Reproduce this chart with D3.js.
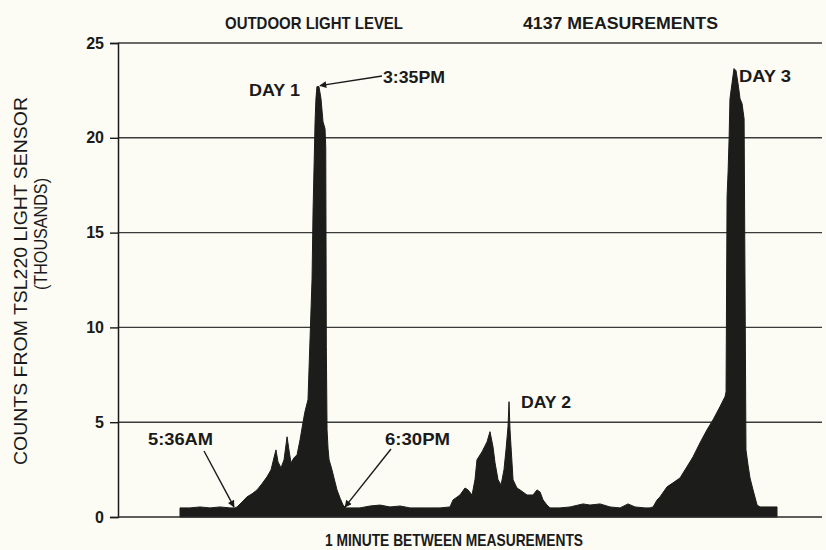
<!DOCTYPE html>
<html>
<head>
<meta charset="utf-8">
<script src="https://cdn.jsdelivr.net/npm/d3@7"></script>
<style>
  html, body { margin: 0; padding: 0; background: #fcfcf4; }
  svg { display: block; }
  text { font-family: "Liberation Sans", Arial, Helvetica, sans-serif; fill: #1a1a1a; }
</style>
</head>
<body>
<svg id="chart" width="826" height="550"></svg>
<script>
// Measurement number (one per minute) and sensor counts in thousands
const minutes = [
  0, 69, 139, 208, 277, 347, 381, 395, 430, 464, 499, 534, 568, 603, 631, 651, 665, 679, 700, 721,
  742, 755, 769, 790, 811, 832, 852, 866, 887, 901, 915, 922, 936, 942, 949, 963, 977, 991, 1005, 1010,
  1014, 1019, 1026, 1033, 1053, 1074, 1088, 1109, 1130, 1150, 1247, 1317, 1386, 1455, 1525, 1594, 1663, 1733, 1802, 1871,
  1892, 1940, 1975, 1996, 2024, 2044, 2058, 2093, 2128, 2148, 2169, 2183, 2204, 2225, 2245, 2259, 2273, 2280,
  2287, 2294, 2308, 2335, 2356, 2405, 2446, 2474, 2495, 2516, 2543, 2564, 2633, 2703, 2793, 2841, 2911, 2980,
  3049, 3105, 3153, 3222, 3257, 3278, 3306, 3326, 3375, 3416, 3465, 3513, 3555, 3604, 3652, 3694, 3742, 3777,
  3784, 3791, 3798, 3805, 3811, 3825, 3839, 3853, 3867, 3881, 3895, 3902, 3909, 3916, 3922, 3936, 3950, 3971,
  3999, 4019, 4089, 4137
];
const counts = [
  0.48, 0.48, 0.53, 0.48, 0.53, 0.48, 0.48, 0.53, 0.79, 1.06, 1.22, 1.43, 1.75, 2.12, 2.49, 3.12, 3.54, 2.91, 2.59, 3.02,
  4.23, 3.54, 2.86, 3.12, 3.28, 4.07, 4.97, 5.56, 6.19, 9.37, 12.54, 16.14, 20.85, 22.06, 22.7, 22.7, 22.06, 20.85, 20.48, 19.5,
  9.0, 4.6, 3.6, 3.02, 2.49, 1.85, 1.43, 1.0, 0.63, 0.48, 0.48, 0.58, 0.63, 0.53, 0.58, 0.48, 0.48, 0.48, 0.48, 0.53,
  0.9, 1.16, 1.53, 1.43, 1.16, 1.96, 3.02, 3.44, 3.97, 4.5, 3.7, 2.86, 1.96, 1.69, 2.49, 3.54, 4.76, 6.08,
  4.6, 3.7, 1.96, 1.53, 1.43, 1.16, 1.16, 1.43, 1.32, 0.9, 0.63, 0.48, 0.48, 0.53, 0.69, 0.63, 0.69, 0.53,
  0.48, 0.69, 0.53, 0.48, 0.48, 0.53, 0.9, 1.06, 1.59, 1.8, 2.06, 2.65, 3.17, 3.92, 4.6, 5.13, 5.82, 6.35,
  6.6, 16.9, 18.2, 19.95, 22.06, 22.86, 23.65, 23.54, 22.86, 22.06, 21.8, 21.4, 21.0, 11.5, 3.54, 2.75, 2.06, 1.43,
  0.63, 0.53, 0.53, 0.53
];
const yTicks = [0, 5, 10, 15, 20, 25];

// Labelled moments along the record
const annotations = [
  { text: "5:36AM", minute: 381 },
  { text: "6:30PM", minute: 1130 },
  { text: "3:35PM", minute: 956 }
];

const data = minutes.map((m, i) => ({ m, v: counts[i] }));

const svg = d3.select("#chart");
const plot = { left: 118, right: 822, top: 43, bottom: 517 };

const x = d3.scaleLinear().domain([0, 4137]).range([180, 777]);
const y = d3.scaleLinear().domain([0, 25]).range([plot.bottom, plot.top]);

// Horizontal grid lines
svg.append("g")
  .selectAll("line")
  .data(yTicks.filter(t => t > 0))
  .join("line")
  .attr("x1", plot.left).attr("x2", plot.right)
  .attr("y1", d => y(d)).attr("y2", d => y(d))
  .attr("stroke", "#3a3a3a").attr("stroke-width", 1.4);

// Light-level area
const area = d3.area()
  .x(d => x(d.m))
  .y0(y(0))
  .y1(d => y(d.v))
  .curve(d3.curveLinear);

svg.append("path")
  .datum(data)
  .attr("d", area)
  .attr("fill", "#1c1c1a")
  .attr("stroke", "#1c1c1a")
  .attr("stroke-width", 1);

// Y axis
const yAxis = d3.axisLeft(y).tickValues(yTicks).tickSize(8).tickPadding(6);
const gy = svg.append("g").attr("transform", `translate(${plot.left},0)`).call(yAxis);
gy.select(".domain").attr("stroke", "#1a1a1a").attr("stroke-width", 1.5);
gy.selectAll(".tick line").attr("stroke", "#1a1a1a").attr("stroke-width", 1.4);
gy.selectAll(".tick text")
  .attr("font-size", 16).attr("font-weight", "bold")
  .style("font-family", "'Liberation Sans', Arial, sans-serif")
  .attr("fill", "#1a1a1a");

// X baseline
svg.append("line")
  .attr("x1", plot.left).attr("x2", plot.right)
  .attr("y1", y(0)).attr("y2", y(0))
  .attr("stroke", "#2a2a2a").attr("stroke-width", 1.5);

// Text helper
function label(txt, px, py, opts = {}) {
  const t = svg.append("text")
    .attr("x", px).attr("y", py)
    .attr("font-size", opts.size || 17)
    .attr("font-weight", opts.weight || "bold")
    .attr("text-anchor", opts.anchor || "start")
    .text(txt);
  if (opts.len) t.attr("textLength", opts.len).attr("lengthAdjust", "spacingAndGlyphs");
  if (opts.rotate) t.attr("transform", `rotate(-90 ${px} ${py})`);
  return t;
}

label("OUTDOOR LIGHT LEVEL", 225, 29, { len: 178 });
label("4137 MEASUREMENTS", 523, 29, { len: 195 });
label("1 MINUTE BETWEEN MEASUREMENTS", 325, 546, { len: 258 });
label("COUNTS FROM TSL220 LIGHT SENSOR", 27, 281, { anchor: "middle", rotate: true, weight: "normal", size: 18, len: 368 });
label("(THOUSANDS)", 47, 234, { anchor: "middle", rotate: true, weight: "normal", size: 18, len: 112 });

// Peak labels
const peak1 = data.find(d => d.m === 949);
const peak2 = data.find(d => d.m === 2280);
const peak3 = data.find(d => d.m === 3839);
label("DAY 1", 249, 96, { len: 51 });
label("DAY 2", x(peak2.m) + 12, y(peak2.v) + 6, { len: 50 });
label("DAY 3", x(peak3.m) + 5, y(peak3.v) + 13, { len: 52 });

// Arrows
const defs = svg.append("defs");
defs.append("marker")
  .attr("id", "head")
  .attr("viewBox", "0 0 10 10")
  .attr("refX", 9).attr("refY", 5)
  .attr("markerWidth", 10).attr("markerHeight", 7)
  .attr("markerUnits", "userSpaceOnUse")
  .attr("orient", "auto")
  .append("path")
  .attr("d", "M0,0 L10,5 L0,10 Z")
  .attr("fill", "#1a1a1a");

function arrow(x1, y1, x2, y2) {
  svg.append("line")
    .attr("x1", x1).attr("y1", y1).attr("x2", x2).attr("y2", y2)
    .attr("stroke", "#1a1a1a").attr("stroke-width", 1.4)
    .attr("marker-end", "url(#head)");
}

const [amLabel, pmLabel, noonLabel] = annotations;
label(amLabel.text, 148, 445, { len: 65 });
arrow(204, 451, x(amLabel.minute) - 1, y(0.48) - 1);

label(pmLabel.text, 385, 445, { len: 65 });
arrow(391, 449, x(pmLabel.minute) + 2, y(0.48) - 1);

label(noonLabel.text, 383, 83, { len: 62 });
arrow(382, 76, x(noonLabel.minute) + 2, y(peak1.v) - 1);
</script>
</body>
</html>
